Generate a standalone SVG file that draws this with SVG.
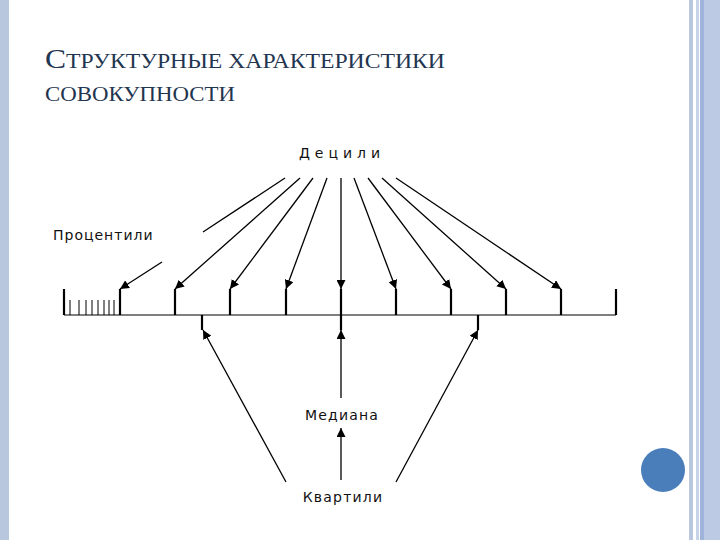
<svg xmlns="http://www.w3.org/2000/svg" width="720" height="540" viewBox="0 0 720 540">
<style>
.t{font-family:"Liberation Serif",serif;fill:#1f3550}
.l{font-family:"DejaVu Sans","Liberation Sans",sans-serif;font-size:14px;fill:#111}
.c line{stroke:#000;stroke-width:1.3;fill:none}
.k{stroke:#000;stroke-width:2.2}
</style>
<defs><marker id="a" viewBox="0 0 10 10" refX="10" refY="5" markerWidth="9" markerHeight="9" markerUnits="userSpaceOnUse" orient="auto"><path d="M0,0L10,5L0,10z" fill="#000"/></marker></defs>
<rect width="720" height="540" fill="#fff"/>
<rect x="0" y="0" width="9" height="540" fill="#b9c7de"/>
<rect x="689" y="0" width="4" height="540" fill="#b9c7de"/>
<rect x="696" y="0" width="3" height="540" fill="#c7d3e8"/>
<rect x="700" y="0" width="4" height="540" fill="#9fb4da"/>
<rect x="704" y="0" width="16" height="540" fill="#bccae3"/>
<circle cx="663" cy="470" r="22" fill="#4a7ebb"/>
<text class="t" x="45" y="68" font-size="21" textLength="400" lengthAdjust="spacingAndGlyphs"><tspan font-size="28">С</tspan>ТРУКТУРНЫЕ ХАРАКТЕРИСТИКИ</text>
<text class="t" x="45" y="101" font-size="21" textLength="190" lengthAdjust="spacingAndGlyphs">СОВОКУПНОСТИ</text>
<g id="axis">
<line x1="64" y1="315" x2="616" y2="315" stroke="#555" stroke-width="1.6"/>
<line class="k" x1="64" y1="289" x2="64" y2="315"/>
<g stroke="#000" stroke-width="1"><line x1="70" y1="300" x2="70" y2="315"/><line x1="79" y1="300" x2="79" y2="315"/><line x1="86" y1="300" x2="86" y2="315"/><line x1="92" y1="300" x2="92" y2="315"/><line x1="98" y1="300" x2="98" y2="315"/><line x1="104" y1="300" x2="104" y2="315"/><line x1="109" y1="300" x2="109" y2="315"/><line x1="114" y1="300" x2="114" y2="315"/></g>
<g class="k"><line x1="120" y1="289" x2="120" y2="315"/><line x1="175" y1="289" x2="175" y2="315"/><line x1="230" y1="289" x2="230" y2="315"/><line x1="286" y1="289" x2="286" y2="315"/><line x1="341" y1="289" x2="341" y2="330"/><line x1="396" y1="289" x2="396" y2="315"/><line x1="451" y1="289" x2="451" y2="315"/><line x1="506" y1="289" x2="506" y2="315"/><line x1="561" y1="289" x2="561" y2="315"/><line x1="616" y1="289" x2="616" y2="315"/><line x1="202" y1="315" x2="202" y2="330"/><line x1="478" y1="315" x2="478" y2="330"/></g>
</g>
<g id="deciles"><text class="l" x="342" y="158" text-anchor="middle" letter-spacing="5">Децили</text></g>
<g id="percentiles"><text class="l" x="53" y="240" letter-spacing="1">Процентили</text></g>
<g id="median"><text class="l" x="342" y="420" text-anchor="middle" letter-spacing="1.2">Медиана</text></g>
<g id="quartiles"><text class="l" x="343" y="502" text-anchor="middle" letter-spacing="1.2">Квартили</text></g>
<g class="c" id="connectors">
<line x1="285" y1="178" x2="203" y2="232"/>
<line x1="162" y1="262" x2="120" y2="289" marker-end="url(#a)"/>
<line x1="300" y1="178" x2="175" y2="289" marker-end="url(#a)"/>
<line x1="313" y1="178" x2="230" y2="289" marker-end="url(#a)"/>
<line x1="327" y1="178" x2="286" y2="289" marker-end="url(#a)"/>
<line x1="341" y1="178" x2="341" y2="289" marker-end="url(#a)"/>
<line x1="354" y1="178" x2="396" y2="289" marker-end="url(#a)"/>
<line x1="368" y1="178" x2="451" y2="289" marker-end="url(#a)"/>
<line x1="382" y1="178" x2="506" y2="289" marker-end="url(#a)"/>
<line x1="396" y1="178" x2="561" y2="289" marker-end="url(#a)"/>
<line x1="341" y1="398" x2="341" y2="330" marker-end="url(#a)"/>
<line x1="341" y1="480" x2="341" y2="428" marker-end="url(#a)"/>
<line x1="286" y1="482" x2="203" y2="330" marker-end="url(#a)"/>
<line x1="396" y1="482" x2="478" y2="330" marker-end="url(#a)"/>
</g>
</svg>
